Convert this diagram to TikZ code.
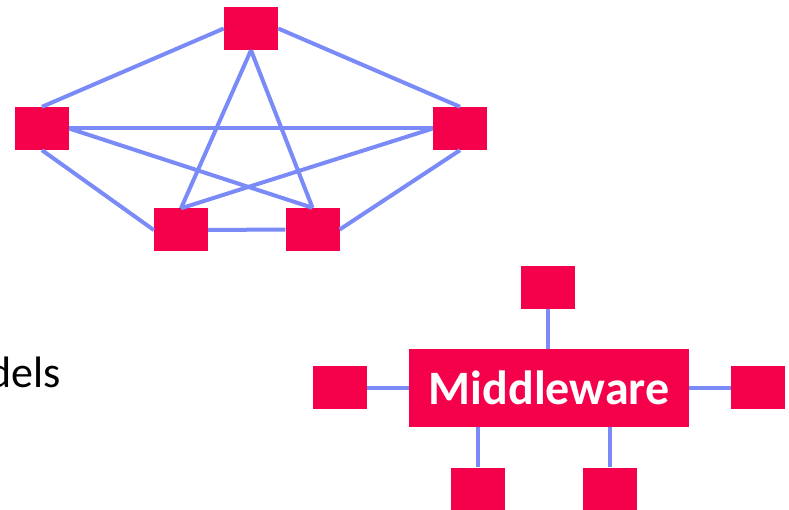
\documentclass[tikz,border=0pt]{standalone}
\usepackage{fontspec}
\setmainfont{Carlito}
\usepackage{xcolor}
\definecolor{boxred}{RGB}{245,0,74}
\definecolor{linkblue}{RGB}{122,139,248}
\tikzset{
  box/.style={fill=boxred, minimum width=54pt, minimum height=43pt, inner sep=0pt},
  link/.style={draw=linkblue, line width=4pt}
}
\begin{document}
\begin{tikzpicture}[x=1pt,y=-1pt]
			\useasboundingbox (0,0) rectangle (789,510);
			% Nút của mạng ngang hàng
			\node[box] (top) at (251,28.5) {};
			\node[box] (left) at (42,128.5) {};
			\node[box] (right) at (460,128.5) {};
			\node[box] (bl) at (181,230) {};
			\node[box] (br) at (312.5,229.5) {};
			% Nối tất cả các nút
			\draw[link] (top.west) -- (left.north);
			\draw[link] (top.east) -- (right.north);
			\draw[link] (top.south) -- (bl.north);
			\draw[link] (top.south) -- (br.north);
			\draw[link] (left.east) -- (right.west);
			\draw[link] (left.east) -- (br.north);
			\draw[link] (right.west) -- (bl.north);
			\draw[link] (left.south) -- (bl.west);
			\draw[link] (right.south) -- (br.east);
			\draw[link] (bl.east) -- (br.west);
			% Chữ bị cắt
			\node[anchor=base east, inner sep=0pt, font=\fontsize{44}{50}\selectfont] (txt) at (61,387) {dels};
			% Mô hình middleware
			\node[fill=boxred, minimum width=280pt, minimum height=78pt, inner sep=0pt, text=white, font=\bfseries\fontsize{48}{54}\selectfont] (mw) at (549,388) {Middleware};
			\node[box] (mtop) at (548,287.5) {};
			\node[box] (mleft) at (340,387.5) {};
			\node[box] (mright) at (758,387.5) {};
			\node[box] (mbl) at (478,489) {};
			\node[box] (mbr) at (610,489) {};
			\draw[link] (mtop.south) -- (mtop |- mw.north);
			\draw[link] (mleft.east) -- (mleft -| mw.west);
			\draw[link] (mright.west) -- (mright -| mw.east);
			\draw[link] (mbl.north) -- (mbl |- mw.south);
			\draw[link] (mbr.north) -- (mbr |- mw.south);
		\end{tikzpicture}
\end{document}
